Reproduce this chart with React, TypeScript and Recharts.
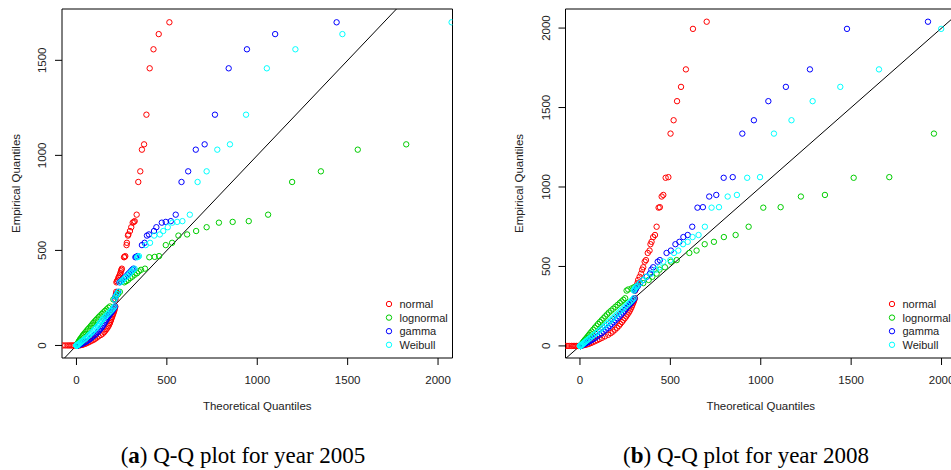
import React from "react"
import {
	ScatterChart,
	Scatter,
	XAxis,
	YAxis,
	ReferenceLine,
	ReferenceArea,
	Legend,
} from "recharts"

const seriesNames = ["normal", "lognormal", "gamma", "Weibull"]
const seriesColors = ["#FF0000", "#00CD00", "#0000FF", "#00FFFF"]

const xTicks = [0, 500, 1000, 1500, 2000]
const yTicks2005 = [0, 500, 1000, 1500]
const yTicks2008 = [0, 500, 1000, 1500, 2000]

// empirical quantiles (shared by every distribution in a panel)
const emp2005 = [
	1700, 1638, 1558, 1458, 1214, 1058, 1030, 916, 860, 688, 654, 650, 646, 622,
	602, 584, 578, 540, 528, 470, 466, 464, 404, 398, 390, 380, 372, 362, 355,
	345, 338, 332, 282, 270, 258, 242, 205, 198, 190, 182, 174, 166, 158, 150,
	142, 134, 126, 118, 110, 102, 94, 86, 78, 70, 62, 55, 48, 41, 35, 29, 24, 19,
	15, 11, 8, 5, 3, 2, 1, 0, 0, 0, 0, 0, 0, 0, 0, 0, 0,
]
// theoretical quantiles, null = off the plot
const normal2005 = [
	514, 455, 426, 405, 387, 374, 362, 353, 342, 333, 322, 317, 311, 303, 296,
	287, 285, 279, 277, 270, 266, 263, 251, 249, 246, 243, 240, 235, 232, 228,
	224, 221, 220, 218, 217, 216, 215, 213, 211, 209, 206, 203, 200, 197, 194,
	191, 188, 185, 181, 177, 172, 166, 160, 153, 145, 135, 122, 112, 103, 94, 82,
	72, 63, 54, 46, 37, 30, 24, 18, 12, 4, -4, -12, -21, -30, -40, -50, -62, -75,
]
const lognormal2005 = [
	null, null, null, null, null, 1824, 1556, 1352, 1193, 1060, 953, 864, 788,
	720, 662, 612, 564, 529, 494, 457, 433, 403, 379, 357, 345, 335, 322, 309,
	298, 286, 275, 264, 240, 230, 218, 204, 185, 176, 167, 158, 149, 141, 132,
	124, 116, 108, 100, 93, 86, 79, 72, 64, 57, 50, 43, 37, 32, 27, 22, 18, 15,
	12, 10, 8, 6, 5, 4, 3.5, 3, 2.7, 2.4, 2.1, 1.8, 1.5, 1.2, 0.9, 0.6, 0.3, 0.1,
]
const gamma2005 = [
	1439, 1099, 943, 842, 766, 709, 660, 618, 581, 549, 522, 494, 472, 442, 429,
	401, 390, 377, 362, 337, 330, 326, 315, 308, 300, 290, 282, 272, 264, 254,
	246, 238, 230, 222, 216, 212, 213, 209, 204, 199, 193, 187, 181, 175, 170,
	165, 160, 155, 150, 145, 139, 132, 125, 118, 110, 102, 92, 84, 76, 68, 60, 52,
	44, 36, 29, 21, 15, 11, 7, 5, 4, 3, 2.5, 2, 1.5, 1, 0.6, 0.3, 0.1,
]
const weibull2005 = [
	2075, 1471, 1211, 1053, 938, 849, 779, 720, 670, 627, 586, 557, 530, 505,
	480, 461, 430, 407, 383, 346, 340, 335, 322, 315, 306, 296, 288, 277, 268,
	258, 250, 242, 232, 224, 217, 211, 210, 205, 198, 190, 182, 174, 165, 157,
	149, 142, 136, 130, 124, 118, 110, 102, 94, 86, 78, 70, 63, 55, 48, 40, 33,
	27, 22, 16, 12, 9, 6, 4, 3, 2.5, 2, 1.7, 1.4, 1.1, 0.8, 0.5, 0.3, 0.15, 0.05,
]

const emp2008 = [
	2040, 1995, 1740, 1630, 1540, 1420, 1336, 1062, 1058, 950, 940, 873, 870, 750,
	698, 685, 655, 640, 600, 585, 540, 530, 495, 480, 455, 435, 415, 395, 380,
	370, 362, 355, 348, 300, 290, 280, 270, 258, 246, 234, 222, 210, 198, 186,
	174, 162, 150, 138, 126, 114, 102, 90, 80, 70, 60, 51, 43, 36, 29, 23, 18,
	13, 9, 6, 4, 2, 1, 0, 0, 0, 0, 0, 0, 0, 0,
]
const normal2008 = [
	701, 625, 586, 559, 537, 518, 501, 489, 474, 461, 452, 442, 435, 424, 415,
	405, 396, 390, 385, 375, 365, 358, 350, 344, 338, 330, 322, 318, 314, 311,
	309, 307, 305, 304, 301, 298, 294, 290, 286, 281, 276, 270, 263, 256, 248,
	240, 232, 223, 215, 205, 194, 182, 170, 156, 138, 122, 108, 95, 82, 70, 60,
	49, 38, 28, 19, 10, 2, -8, -18, -28, -38, -48, -60, -72, -85,
]
const lognormal2008 = [
	null, null, null, null, null, null, 1958, 1711, 1514, 1355, 1222, 1110, 1014,
	933, 861, 796, 741, 690, 645, 605, 535, 503, 470, 440, 424, 400, 380, 350,
	320, 300, 286, 267, 258, 250, 240, 230, 220, 208, 196, 184, 172, 160, 150,
	140, 130, 120, 110, 100, 91, 82, 73, 64, 57, 50, 43, 37, 31, 26, 21, 17, 14,
	11, 8, 6, 5, 4, 3, 2.6, 2.2, 1.8, 1.5, 1.2, 0.9, 0.6, 0.3,
]
const gamma2008 = [
	1925, 1477, 1272, 1139, 1042, 962, 898, 845, 795, 754, 715, 680, 650, 621,
	596, 572, 550, 528, 503, 479, 442, 430, 405, 395, 387, 369, 350, 332, 322,
	314, 310, 306, 303, 302, 296, 289, 282, 273, 264, 255, 247, 238, 228, 218,
	208, 197, 187, 176, 166, 155, 143, 131, 120, 108, 96, 84, 73, 63, 53, 44, 36,
	28, 21, 15, 11, 7, 5, 3, 2.5, 2, 1.5, 1, 0.6, 0.3, 0.1,
]
const weibull2008 = [
	null, 1998, 1654, 1440, 1287, 1170, 1073, 996, 925, 868, 817, 769, 728, 691,
	656, 623, 596, 570, 544, 520, 500, 461, 440, 420, 395, 365, 350, 332, 318,
	310, 304, 300, 298, 297, 290, 281, 272, 261, 250, 239, 226, 215, 204, 193,
	182, 171, 159, 148, 136, 124, 112, 100, 89, 78, 67, 57, 48, 40, 33, 26, 21,
	16, 12, 9, 6, 4, 3, 2.5, 2, 1.6, 1.2, 0.9, 0.6, 0.3, 0.1,
]

const FONT = "'Liberation Sans', Arial, Helvetica, sans-serif"

const toPoints = (theo: (number | null)[], emp: number[]) =>
	theo
		.map((x, i) => (x === null ? null : { x, y: emp[i] }))
		.filter((p) => p !== null) as { x: number; y: number }[]

const XTick = ({ x, y, payload }: any) => (
	<text
		x={x}
		y={y + 14.5}
		textAnchor="middle"
		dominantBaseline="central"
		fontSize={11.5}
		fontFamily={FONT}
		fill="#222"
	>
		{payload.value}
	</text>
)

const YTick = ({ x, y, payload }: any) => (
	<text
		x={x - 12.5}
		y={y}
		textAnchor="middle"
		dominantBaseline="central"
		fontSize={11.5}
		fontFamily={FONT}
		fill="#222"
		transform={`rotate(-90, ${x - 12.5}, ${y})`}
	>
		{payload.value}
	</text>
)

const YTitle = ({ viewBox }: any) => {
	const cx = viewBox.x + viewBox.width - 46.3
	const cy = viewBox.y + viewBox.height / 2
	return (
		<text
			x={cx}
			y={cy}
			textAnchor="middle"
			dominantBaseline="central"
			fontSize={11.5}
			fontFamily={FONT}
			fill="#222"
			transform={`rotate(-90, ${cx}, ${cy})`}
		>
			Empirical Quantiles
		</text>
	)
}

const XTitle = ({ viewBox }: any) => (
	<text
		x={viewBox.x + viewBox.width / 2}
		y={viewBox.y + 48}
		textAnchor="middle"
		dominantBaseline="central"
		fontSize={11.5}
		fontFamily={FONT}
		fill="#222"
	>
		Theoretical Quantiles
	</text>
)

const LegendBox = () => (
	<svg width={90} height={58} style={{ overflow: "visible" }}>
		{seriesNames.map((name, i) => (
			<g key={name}>
				<circle
					cx={5}
					cy={7 + i * 13.6}
					r={2.7}
					fill="none"
					stroke={seriesColors[i]}
					strokeWidth={1}
				/>
				<text
					x={15.5}
					y={7 + i * 13.6}
					dominantBaseline="central"
					fontSize={11}
					fontFamily={FONT}
					fill="#222"
				>
					{name}
				</text>
			</g>
		))}
	</svg>
)

interface QQPanelProps {
	emp: number[]
	theo: (number | null)[][]
	yDomain: [number, number]
	yTicks: number[]
	yAxisWidth: number
	width: number
}

const X_DOMAIN: [number, number] = [-80, 2080]
const PLOT_W = 390.5

const QQPanel: React.FC<QQPanelProps> = ({
	emp,
	theo,
	yDomain,
	yTicks,
	yAxisWidth,
	width,
}) => {
	const plotRight = yAxisWidth + PLOT_W
	return (
		<ScatterChart
			width={width}
			height={420}
			margin={{ top: 9, right: width - plotRight, bottom: 20, left: 0 }}
		>
			<XAxis
				type="number"
				dataKey="x"
				domain={X_DOMAIN}
				ticks={xTicks}
				allowDataOverflow
				axisLine={false}
				tickLine={{ stroke: "#000" }}
				tickSize={7}
				tickMargin={0}
				height={42}
				tick={<XTick />}
				label={<XTitle />}
			/>
			<YAxis
				type="number"
				dataKey="y"
				domain={yDomain}
				ticks={yTicks}
				allowDataOverflow
				axisLine={false}
				tickLine={{ stroke: "#000" }}
				tickSize={7}
				tickMargin={0}
				width={yAxisWidth}
				tick={<YTick />}
				label={<YTitle />}
			/>
			{theo.map((series, i) => (
				<Scatter
					key={seriesNames[i]}
					name={seriesNames[i]}
					data={toPoints(series, emp)}
					isAnimationActive={false}
					shape={(p: any) => (
						<circle
							cx={p.cx}
							cy={p.cy}
							r={2.7}
							fill="none"
							stroke={seriesColors[i]}
							strokeWidth={1}
						/>
					)}
				/>
			))}
			<ReferenceLine
				segment={[
					{ x: -200, y: -200 },
					{ x: 2400, y: 2400 },
				]}
				stroke="#000"
				strokeWidth={1}
				ifOverflow="hidden"
			/>
			<ReferenceArea
				x1={X_DOMAIN[0]}
				x2={X_DOMAIN[1]}
				y1={yDomain[0]}
				y2={yDomain[1]}
				fill="none"
				fillOpacity={0}
				stroke="#000"
				strokeWidth={1}
				ifOverflow="visible"
			/>
			<Legend
				layout="vertical"
				align="center"
				verticalAlign="middle"
				wrapperStyle={{ left: plotRight - 68.7, top: 297, width: 90, height: 58 }}
				content={<LegendBox />}
			/>
		</ScatterChart>
	)
}

const captionStyle: React.CSSProperties = {
	position: "absolute",
	top: 444,
	width: 400,
	textAlign: "center",
	fontFamily: "'Liberation Serif', 'Times New Roman', serif",
	fontSize: 23,
	lineHeight: "23px",
	color: "#000",
	whiteSpace: "nowrap",
}

export default function App() {
	return (
		<div
			style={{
				position: "absolute",
				left: 0,
				top: 0,
				width: 951,
				height: 470,
				overflow: "hidden",
				background: "#fff",
			}}
		>
			<div style={{ position: "absolute", left: 0, top: 0 }}>
				<QQPanel
					emp={emp2005}
					theo={[normal2005, lognormal2005, gamma2005, weibull2005]}
					yDomain={[-66, 1770]}
					yTicks={yTicks2005}
					yAxisWidth={62}
					width={475}
				/>
			</div>
			<div style={{ position: "absolute", left: 480, top: 0 }}>
				<QQPanel
					emp={emp2008}
					theo={[normal2008, lognormal2008, gamma2008, weibull2008]}
					yDomain={[-76, 2120]}
					yTicks={yTicks2008}
					yAxisWidth={85.5}
					width={500}
				/>
			</div>
			<div style={{ ...captionStyle, left: 243 - 200 }}>
				(<b>a</b>) Q-Q plot for year 2005
			</div>
			<div style={{ ...captionStyle, left: 746 - 200 }}>
				(<b>b</b>) Q-Q plot for year 2008
			</div>
		</div>
	)
}
